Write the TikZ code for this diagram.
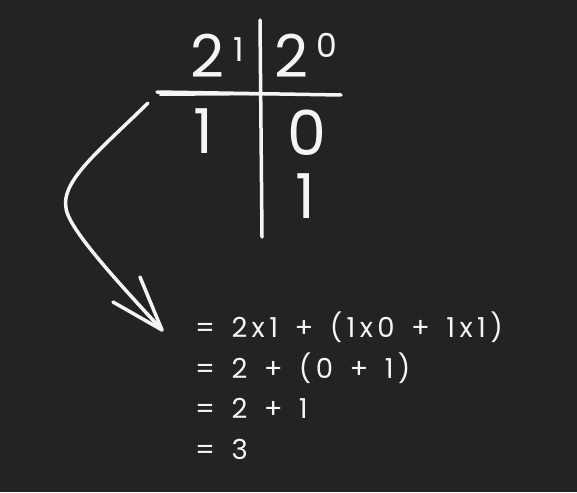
\documentclass[tikz,border=0pt]{standalone}
\usepackage{fontspec}
\setmainfont{Poppins}
\newfontfamily\eqfont{Poppins}[WordSpace=1.4,LetterSpace=16]
\definecolor{bgc}{RGB}{35,35,35}
\definecolor{inkc}{RGB}{245,245,245}
\begin{document}
\begin{tikzpicture}[x=1pt,y=-1pt,
  ink/.style={draw=inkc,line width=3.5pt,line cap=round,line join=round},
  big/.style={text=inkc,inner sep=0pt,font=\fontsize{59}{62}\selectfont,anchor=base west},
  sup/.style={text=inkc,inner sep=0pt,font=\fontsize{33}{36}\selectfont,anchor=base west},
  mid/.style={text=inkc,inner sep=0pt,font=\fontsize{62}{64}\selectfont,anchor=base west},
  eq/.style={text=inkc,inner sep=0pt,font=\eqfont\fontsize{27.5}{30}\selectfont,anchor=base west}]
\fill[bgc] (0,0) rectangle (577,492);
\useasboundingbox (0,0) rectangle (577,492);
% table lines
\coordinate (vtop) at (260,20);
\coordinate (vbot) at (262,237);
\coordinate (hl) at (157,92);
\coordinate (hr) at (341,95);
\draw[ink] (vtop) -- (vbot);
\draw[ink] (hl) -- (hr);
\draw[draw=inkc,line width=2pt,line cap=round] (160,95) -- (300,94);
% headers
\node[big] (twoA) at (190,78) {2};
\node[sup] (oneA) at (233,62) {1};
\node[big] (twoB) at (274,78) {2};
\node[sup] (zeroB) at (316,58) {0};
% digits
\node[mid] (d1) at (193,153) {1};
\node[mid] (d0) at (287,155) {0};
\node[mid] (d1b) at (295,218) {1};
% arrow
\coordinate (as) at (148,103);
\coordinate (at) at (162,330);
\coordinate (ba) at (140,277);
\coordinate (bb) at (113,302);
\draw[ink] (as) .. controls (95,155) and (55,185) .. (68,215)
  .. controls (78,240) and (130,295) .. (at);
\draw[ink] (ba) -- (at) -- (bb);
% equations
\node[eq] (e1) at (195,337) {= 2x1 + (1x0 + 1x1)};
\node[eq] (e2) at (195,378) {= 2 + (0 + 1)};
\node[eq] (e3) at (195,418) {= 2 + 1};
\node[eq] (e4) at (195,459) {= 3};
\end{tikzpicture}
\end{document}
